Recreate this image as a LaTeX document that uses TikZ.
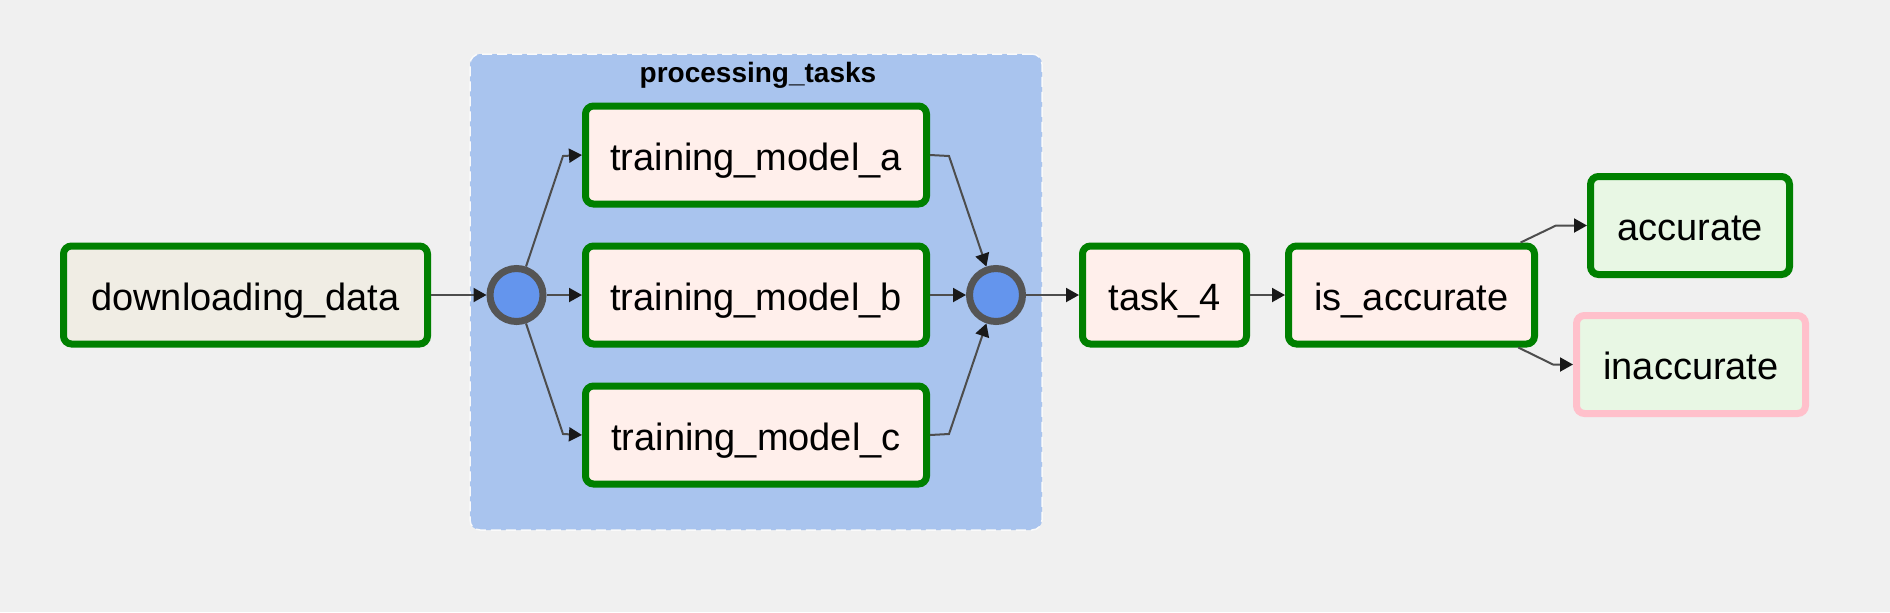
\documentclass[tikz,border=0pt]{standalone}
\usepackage{fontspec}
\setmainfont{Liberation Sans}
\usetikzlibrary{arrows.meta, positioning}

\definecolor{pagebg}{HTML}{F0F0F0}
\definecolor{groupfill}{HTML}{A9C4EE}
\definecolor{joinfill}{HTML}{6495ED}
\definecolor{joinring}{HTML}{555555}
\definecolor{okgreen}{HTML}{008000}
\definecolor{skippink}{HTML}{FFC0CB}
\definecolor{bashfill}{HTML}{F0EDE4}
\definecolor{pyfill}{HTML}{FFEFEB}
\definecolor{dummyfill}{HTML}{E8F7E4}
\definecolor{edgegray}{HTML}{4D4D4D}

\tikzset{
  task/.style={draw=okgreen, line width=3.5pt, rounded corners=4pt, minimum height=49pt, inner sep=0pt, text height=16pt, text depth=1pt, font=\fontsize{19}{22}\selectfont},
  joinnode/.style={circle, draw=joinring, fill=joinfill, line width=3.5pt, minimum size=26.5pt, inner sep=0pt},
  flow/.style={draw=edgegray, line width=1pt, -{Triangle[length=6.5pt, width=7pt, color=black!90]}},
  groupbox/.style={fill=groupfill, draw=white!70!pagebg, dashed, dash pattern=on 5pt off 2.5pt, line width=0.75pt, rounded corners=5pt, minimum width=286pt, minimum height=238pt},
}

\begin{document}
\begin{tikzpicture}[x=0.5pt, y=-0.5pt]
\path[use as bounding box, fill=pagebg] (0,0) rectangle (1890,612);

% task group
\node[groupbox] (grp) at (756,292) {};
\node[font=\bfseries\fontsize{14}{16}\selectfont] (grptitle) at (758,75.5) {processing\_tasks};

\node[task, fill=bashfill, minimum width=182pt] (dl) at (245.5,295) {downloading\_data};
\node[joinnode] (jin) at (516.5,295) {};
\node[task, fill=pyfill, minimum width=170.5pt] (tmb) at (756,295) {training\_model\_b};
\node[task, fill=pyfill, minimum width=170.5pt, above=17.5pt of tmb] (tma) {training\_model\_a};
\node[task, fill=pyfill, minimum width=170.5pt, below=17.5pt of tmb] (tmc) {training\_model\_c};
\node[joinnode] (jout) at (996,295) {};
\node[task, fill=pyfill, minimum width=82pt] (t4) at (1164.5,295) {task\_4};
\node[task, fill=pyfill, minimum width=123pt] (isacc) at (1411.5,295) {is\_accurate};
\node[task, fill=dummyfill, minimum width=99.5pt] (acc) at (1690,225.5) {accurate};
\node[task, draw=skippink, fill=dummyfill, minimum width=114.5pt] (inacc) at (1691,364.5) {inaccurate};

% bends of the edges
\coordinate (ka) at (563,156);
\coordinate (kc) at (563,434);
\coordinate (ma) at (949,156);
\coordinate (mc) at (949,434);
\coordinate (up) at (1556,225.5);
\coordinate (dn) at (1553,364.5);

\draw[flow] (dl) -- (jin);
\draw[flow] (jin) -- (ka) -- (tma.west);
\draw[flow] (jin) -- (tmb);
\draw[flow] (jin) -- (kc) -- (tmc.west);
\draw[flow] (tma.east) -- (ma) -- (jout);
\draw[flow] (tmb) -- (jout);
\draw[flow] (tmc.east) -- (mc) -- (jout);
\draw[flow] (jout) -- (t4);
\draw[flow] (t4) -- (isacc);
\draw[flow] (isacc) -- (up) -- (acc.west);
\draw[flow] (isacc) -- (dn) -- (inacc.west);
\end{tikzpicture}
\end{document}
